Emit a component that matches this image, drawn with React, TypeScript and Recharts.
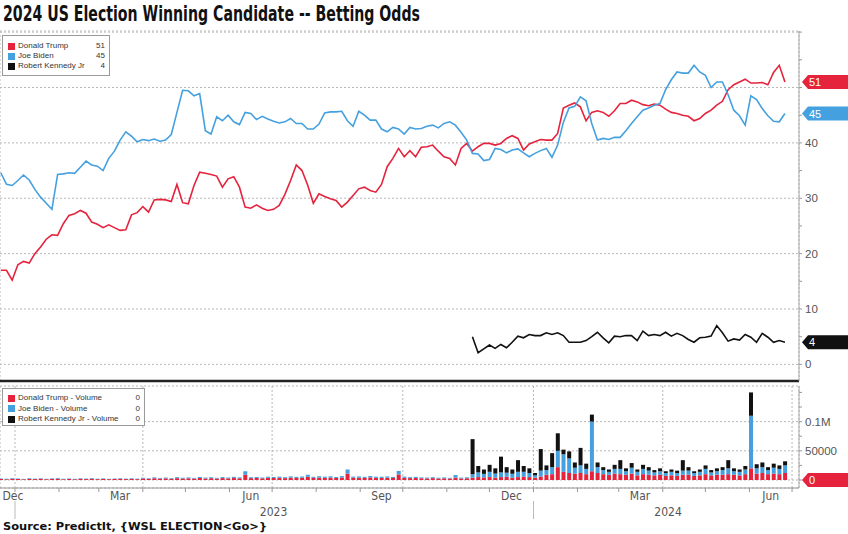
import React from 'react';
import { LineChart, Line, BarChart, Bar, XAxis, YAxis, CartesianGrid, ReferenceLine } from 'recharts';

// x positions: days since 2023-01-01, one reading every 4 days starting 2022-12-22
const START_DAY = -10;
const STEP_DAYS = 4;
const X_DOMAIN: [number, number] = [-10.56, 551.9];

const trump = [
  17.0, 17.0, 15.2, 18.0, 18.6, 18.3, 20.0, 21.2, 22.6, 23.4, 23.3, 25.4, 26.9, 27.2, 27.8, 27.3, 25.7, 25.3, 24.7, 25.2,
  24.7, 24.2, 24.3, 27.0, 27.4, 28.5, 27.5, 29.7, 29.8, 29.7, 29.4, 32.5, 29.2, 29.0, 32.3, 34.7, 34.5, 34.3, 34.0, 32.0,
  33.5, 33.9, 32.0, 28.4, 28.2, 28.8, 28.2, 27.8,
  28.0, 28.7, 30.7, 33.2, 36.0, 35.0, 32.4, 29.1, 30.8, 30.3, 29.9, 29.6, 28.4, 29.3, 30.5, 31.7, 32.0, 31.4, 31.1, 32.5,
  35.7, 37.2, 39.0, 37.5, 38.6, 37.5, 39.2, 39.3, 39.6, 38.5, 37.5, 37.2, 36.0, 39.0, 39.9, 38.5, 39.3, 39.9, 39.9, 39.6,
  39.9, 40.8, 41.3, 40.8, 38.7, 39.8,
  40.2, 40.6, 40.5, 40.5, 41.7, 46.3, 46.8, 47.2, 46.5, 44.0, 45.5, 45.8, 45.5, 44.8, 45.8, 47.1, 47.1, 47.7, 47.4, 46.9,
  46.7, 47.0, 46.8, 46.1, 45.5, 45.3, 45.0, 44.8, 44.0, 44.4, 45.3, 45.9, 46.8, 47.5, 49.6, 50.5, 51.0, 51.5, 50.8, 50.8,
  50.9, 50.5, 52.7, 54.0, 51.0,
];

const biden = [
  34.6, 32.5, 32.3, 33.2, 34.2, 33.3, 31.6, 30.2, 29.1, 28.0, 34.3, 34.4, 34.6, 34.5, 35.6, 36.7, 36.0, 35.8, 35.0, 37.2,
  38.5, 40.5, 42.0, 41.2, 40.2, 40.6, 40.4, 40.7, 40.3, 40.5, 41.5, 45.5, 49.5, 49.4, 48.5, 48.9, 42.2, 41.6, 44.7, 44.0,
  45.0, 43.8, 43.3, 45.5, 45.3, 44.2, 44.8, 44.3,
  43.9, 43.6, 43.8, 44.4, 43.5, 43.5, 42.5, 42.5, 43.4, 45.4, 45.6, 45.6, 45.7, 44.0, 43.0, 45.7, 45.0, 44.1, 44.1, 42.5,
  42.0, 42.8, 42.5, 41.6, 42.8, 42.5, 42.6, 43.0, 43.2, 42.7, 43.5, 43.8, 43.2, 41.9, 40.5, 38.1, 38.0, 36.8, 37.0, 39.0,
  38.8, 38.2, 38.7, 38.9, 38.2, 37.5,
  38.1, 38.6, 39.0, 37.4, 39.6, 43.7, 46.3, 46.6, 48.3, 47.6, 43.5, 40.5, 40.8, 40.6, 41.0, 41.0, 42.2, 43.5, 44.7, 45.9,
  46.3, 46.8, 47.1, 49.6, 51.4, 52.8, 52.6, 52.6, 54.0, 52.8, 52.2, 50.0, 51.0, 51.0, 48.7, 45.9, 44.9, 43.2, 48.5, 47.8,
  46.2, 44.9, 43.9, 43.8, 45.3,
];

// Kennedy market starts at reading index 83 (Nov 2023)
const KENNEDY_START = 83;
const kennedy = [
  5.0, 2.1, 2.8, 3.5, 2.9, 3.6, 3.0, 4.0, 5.1, 4.8, 5.4, 5.2, 5.2, 5.7, 5.4, 5.7, 5.2, 4.0, 4.0, 4.0,
  4.3, 5.0, 5.8, 4.8, 3.9, 5.1, 5.0, 5.2, 5.2, 4.3, 6.0, 5.2, 5.4, 5.2, 5.8, 5.1, 5.6, 5.2, 4.5, 4.0,
  4.8, 4.9, 5.1, 7.0, 5.7, 4.2, 4.6, 4.4, 5.4, 4.9, 4.0, 5.6, 4.9, 4.0, 4.3, 4.0,
];

const trumpVol = [
  1800, 1500, 2200, 1700, 1300, 2000, 1600, 2100, 1400, 1900, 2300, 1500, 1700, 1300, 2000, 1600, 2200, 1500, 1900, 1400,
  1700, 2100, 1600, 2000, 1500,
  2600, 2100, 3000, 2400, 2800, 2200, 3200, 2600, 2900, 2400, 3400, 2700, 3100, 2500, 3300, 2800, 3600, 3000, 9000, 3200,
  3500, 2900, 3700,
  3400, 3800, 3200, 4000, 3500, 3900, 5500, 3600, 4200, 3700, 4100, 3400, 4300, 11000, 3800, 4000, 3500, 4400, 3700,
  3600, 4000, 3400, 9500, 3800, 3200, 3500, 3000, 2800, 3200, 2600, 2900, 2500, 4000, 2700, 3000,
  4000, 5000, 4500, 5000, 4000, 5000, 5500, 4000, 5000, 6000, 5000, 4000, 6000, 9000, 10000, 22000, 14000, 12000, 11000, 12000,
  10000, 15000, 12000, 10000, 9000, 11000, 10000, 9000, 11000, 8000, 10000, 9000, 8000, 9000, 7000, 8000, 7000, 9000, 9000, 7000,
  8000, 10000, 8000, 9000, 9000, 10000, 9000, 8000, 10000, 20000, 11000, 12000, 10000, 11000, 10000, 12000,
];

const bidenVol = [
  900, 700, 1000, 800, 600, 1100, 700, 900, 600, 1000, 1200, 800, 900, 700, 1000, 800, 1100, 700, 900, 600,
  800, 1000, 700, 1100, 800,
  1300, 1000, 1500, 1200, 1400, 1100, 1600, 1300, 1500, 1200, 1800, 1400, 1600, 1200, 1700, 1400, 1900, 1500, 6000, 1600,
  1800, 1400, 2000,
  1800, 2000, 1600, 2200, 1900, 2100, 3500, 1900, 2300, 2000, 2200, 1800, 2400, 7000, 2000, 2200, 1900, 2500, 2000,
  2000, 2200, 1800, 6000, 2100, 1700, 1900, 1500, 1400, 1600, 1300, 1500, 1200, 4500, 1400, 1600,
  6000, 8000, 6000, 9000, 7000, 8000, 7000, 6500, 9000, 8000, 7000, 4000, 10000, 8000, 12000, 28000, 30000, 25000, 10000, 13000,
  9000, 85000, 10000, 7000, 5000, 8000, 9000, 6000, 10000, 6000, 9000, 7000, 5000, 6000, 5000, 6000, 5000, 7000, 7000, 5000,
  6000, 9000, 5000, 6000, 8000, 10000, 6000, 6000, 8000, 90000, 9000, 10000, 7000, 10000, 9000, 13000,
];

const kennedyVol = [
  60000, 11000, 7500, 12000, 9000, 27000, 9500, 7500, 20000, 10000, 8000, 4000, 37000, 8000, 24000, 30000, 8000, 12000, 9000, 30000,
  9000, 12000, 8000, 5000, 4000, 7000, 15000, 5000, 8000, 4000, 7000, 6000, 4000, 5000, 3000, 4000, 4000, 18000, 6000, 3000,
  4000, 6000, 4000, 5000, 5000, 14000, 5000, 4000, 6000, 40000, 7000, 8000, 5000, 7000, 6000, 7000,
];

const volumeLast = [0, 0, 0];

const quarterTicks = [0, 90, 181, 273, 365, 456, 547];
const monthTicks = [0, 31, 59, 90, 120, 151, 181, 212, 243, 273, 304, 334, 365, 396, 425, 456, 486, 517, 547];
const monthLabels = [
  { day: -1.4, label: 'Dec' },
  { day: 74, label: 'Mar' },
  { day: 166, label: 'Jun' },
  { day: 258, label: 'Sep' },
  { day: 349.5, label: 'Dec' },
  { day: 440, label: 'Mar' },
  { day: 532, label: 'Jun' },
];
const yearLabels = [
  { day: 182, label: '2023' },
  { day: 459.7, label: '2024' },
];
const yearSeps = [0, 365];

const oddsTicks = [0, 5, 10, 15, 20, 25, 30, 35, 40, 45, 50, 55, 60];
const oddsGrid = [0, 10, 20, 30, 40, 50, 60];
const volTicks = [0, 25000, 50000, 75000, 100000, 125000, 150000];
const volGrid = [0, 50000, 100000];
const volLabels: Record<number, string> = { 50000: '50000', 100000: '0.1M' };

const RED = '#e5233d';
const BLUE = '#45a0e0';
const BLACK = '#111111';
const SANS = "'Liberation Sans', Arial, sans-serif";
const NARROW = "'Liberation Sans Narrow', 'DejaVu Sans Condensed', sans-serif";

const odds = trump.map((t, i) => ({
  day: START_DAY + STEP_DAYS * i,
  trump: t,
  biden: biden[i],
  kennedy: i >= KENNEDY_START ? kennedy[i - KENNEDY_START] : null,
}));

const volume = trumpVol.map((v, i) => ({
  day: START_DAY + STEP_DAYS * i,
  trumpVol: v,
  bidenVol: bidenVol[i],
  kennedyVol: i >= KENNEDY_START ? kennedyVol[i - KENNEDY_START] : 0,
}));

const lastTrump = trump[trump.length - 1];
const lastBiden = biden[biden.length - 1];
const lastKennedy = kennedy[kennedy.length - 1];
const tagValues = [lastTrump, lastBiden, lastKennedy];

const timeTicks = [...monthTicks, ...monthLabels.map((d) => d.day), ...yearLabels.map((d) => d.day)];

const OddsTick = (props: any) => {
  const { x, y, payload } = props;
  const v = payload.value;
  if (v % 10 !== 0 || v >= 60) return <g />;
  // labels hidden behind a value tag are not drawn (the tag covers them)
  if (tagValues.some((t) => Math.abs(t - v) < 2.2)) return <g />;
  return (
    <text x={x} y={y} dy={4} fontSize={11.5} fill="#555" fontFamily={SANS} textAnchor="start">
      {String(v)}
    </text>
  );
};

const VolTick = (props: any) => {
  const { x, y, payload } = props;
  const lab = volLabels[payload.value];
  if (!lab) return <g />;
  return (
    <text x={x} y={y} dy={4} fontSize={11.5} fill="#555" fontFamily={SANS} textAnchor="start">
      {lab}
    </text>
  );
};

const TimeTick = (props: any) => {
  const { x, y, payload } = props;
  const v = payload.value;
  const m = monthLabels.find((d) => d.day === v);
  if (m) {
    return (
      <text x={x} y={y} dy={12} textAnchor="middle" fontSize={12} fill="#555" fontFamily={NARROW}>
        {m.label}
      </text>
    );
  }
  const yl = yearLabels.find((d) => d.day === v);
  if (yl) {
    return (
      <text x={x} y={y} dy={28} textAnchor="middle" fontSize={12} fill="#555" fontFamily={NARROW}>
        {yl.label}
      </text>
    );
  }
  return (
    <g>
      <line x1={x} x2={x} y1={y} y2={y + 4} stroke="#999" strokeWidth={1} />
      {yearSeps.includes(v) ? <line x1={x} x2={x} y1={y + 13} y2={y + 31} stroke="#bbb" strokeWidth={1} /> : null}
    </g>
  );
};

const Tag = (props: any) => {
  const { viewBox, color, text } = props;
  if (!viewBox) return null;
  const x0 = viewBox.x + viewBox.width + 3;
  const y0 = viewBox.y;
  const h = 7;
  const pts = `${x0},${y0} ${x0 + 6},${y0 - h} 848,${y0 - h} 848,${y0 + h} ${x0 + 6},${y0 + h}`;
  return (
    <g>
      <polygon points={pts} fill={color} />
      <text x={x0 + 7} y={y0 + 4} fontSize={11} fill="#fff" fontFamily={SANS}>
        {text}
      </text>
    </g>
  );
};

const legendBox: React.CSSProperties = {
  position: 'absolute',
  background: '#fff',
  border: '1px solid #9a9a9a',
  boxSizing: 'border-box',
  fontFamily: SANS,
  fontSize: 8,
  color: '#333',
};

const LegendRow = ({ top, color, label, value, width }: any) => (
  <div style={{ position: 'absolute', top, left: 0, width, height: 10, lineHeight: '10px' }}>
    <div style={{ position: 'absolute', left: 5, top: 1.5, width: 7, height: 7, background: color }} />
    <div style={{ position: 'absolute', left: 15, top: 0, whiteSpace: 'nowrap' }}>{label}</div>
    <div style={{ position: 'absolute', right: 4, top: 0 }}>{value}</div>
  </div>
);

export default function App() {
  return (
    <div style={{ position: 'absolute', left: 0, top: 0, width: 848, height: 534, background: '#fff', overflow: 'hidden' }}>
      <svg width={848} height={534} style={{ position: 'absolute', left: 0, top: 0 }}>
        <text
          x={3}
          y={21}
          fontFamily={NARROW}
          fontWeight="bold"
          fontSize={21}
          fill="#111"
          textLength={417}
          lengthAdjust="spacingAndGlyphs"
        >
          2024 US Election Winning Candidate -- Betting Odds
        </text>
      </svg>

      <div style={{ position: 'absolute', left: 0, top: 0 }}>
        <LineChart width={848} height={383} data={odds} margin={{ top: 31, right: 0, left: 0, bottom: 1 }}>
          <CartesianGrid yAxisId="g" stroke="#b8b8b8" strokeDasharray="2 2" />
          <XAxis
            type="number"
            dataKey="day"
            domain={X_DOMAIN}
            allowDataOverflow
            ticks={quarterTicks}
            interval={0}
            height={1}
            tick={false}
            tickLine={false}
            axisLine={{ stroke: '#222', strokeWidth: 2.5 }}
          />
          <YAxis yAxisId="g" type="number" domain={[-3, 60.2]} allowDataOverflow ticks={oddsGrid} width={0} hide />
          <YAxis
            yAxisId="r"
            orientation="right"
            type="number"
            domain={[-3, 60.2]}
            allowDataOverflow
            ticks={oddsTicks}
            interval={0}
            width={49}
            tickSize={3}
            tickMargin={3}
            axisLine={{ stroke: '#aaa' }}
            tickLine={{ stroke: '#999' }}
            tick={<OddsTick />}
          />
          <Line yAxisId="r" type="linear" dataKey="trump" stroke={RED} strokeWidth={1.6} dot={false} isAnimationActive={false} />
          <Line yAxisId="r" type="linear" dataKey="biden" stroke={BLUE} strokeWidth={1.6} dot={false} isAnimationActive={false} />
          <Line yAxisId="r" type="linear" dataKey="kennedy" stroke={BLACK} strokeWidth={1.6} dot={false} isAnimationActive={false} connectNulls={false} />
          <ReferenceLine yAxisId="r" y={lastTrump} stroke="none" ifOverflow="visible" label={<Tag color={RED} text={String(Math.round(lastTrump))} />} />
          <ReferenceLine yAxisId="r" y={lastBiden} stroke="none" ifOverflow="visible" label={<Tag color={BLUE} text={String(Math.round(lastBiden))} />} />
          <ReferenceLine yAxisId="r" y={lastKennedy} stroke="none" ifOverflow="visible" label={<Tag color={BLACK} text={String(Math.round(lastKennedy))} />} />
        </LineChart>
      </div>

      <div style={{ position: 'absolute', left: 0, top: 382 }}>
        <BarChart width={848} height={152} data={volume} margin={{ top: 4, right: 0, left: 0, bottom: 0 }} barGap={0}>
          <CartesianGrid xAxisId="g" yAxisId="g" stroke="#b8b8b8" strokeDasharray="2 2" />
          <XAxis
            xAxisId="m"
            type="number"
            dataKey="day"
            domain={X_DOMAIN}
            allowDataOverflow
            ticks={timeTicks}
            interval={0}
            height={46}
            tickSize={0}
            tickMargin={0}
            tickLine={false}
            axisLine={{ stroke: '#999' }}
            tick={<TimeTick />}
          />
          <XAxis xAxisId="g" type="number" dataKey="day" domain={X_DOMAIN} allowDataOverflow ticks={quarterTicks} height={0} hide />
          <YAxis yAxisId="g" type="number" domain={[-13700, 161000]} allowDataOverflow ticks={volGrid} width={0} hide />
          <YAxis
            yAxisId="r"
            orientation="right"
            type="number"
            domain={[-13700, 161000]}
            allowDataOverflow
            ticks={volTicks}
            interval={0}
            width={49}
            tickSize={3}
            tickMargin={3}
            axisLine={{ stroke: '#aaa' }}
            tickLine={{ stroke: '#999' }}
            tick={<VolTick />}
          />
          <Bar xAxisId="m" yAxisId="r" dataKey="trumpVol" stackId="v" fill={RED} barSize={4} isAnimationActive={false} />
          <Bar xAxisId="m" yAxisId="r" dataKey="bidenVol" stackId="v" fill={BLUE} barSize={4} isAnimationActive={false} />
          <Bar xAxisId="m" yAxisId="r" dataKey="kennedyVol" stackId="v" fill={BLACK} barSize={4} isAnimationActive={false} />
          <ReferenceLine xAxisId="m" yAxisId="r" y={volumeLast[0]} stroke="none" ifOverflow="visible" label={<Tag color={RED} text={String(volumeLast[0])} />} />
        </BarChart>
      </div>

      <svg width={848} height={534} style={{ position: 'absolute', left: 0, top: 0, pointerEvents: 'none' }}>
        <text
          x={3}
          y={530}
          fontFamily="'DejaVu Sans', sans-serif"
          fontWeight="bold"
          fontSize={11}
          fill="#111"
          textLength={264}
          lengthAdjust="spacingAndGlyphs"
        >
          {'Source: PredictIt, {WSL ELECTION<Go>}'}
        </text>
      </svg>

      <div style={{ ...legendBox, left: 2, top: 35, width: 108, height: 41 }}>
        <LegendRow top={5} width={106} color={RED} label="Donald Trump" value={String(Math.round(lastTrump))} />
        <LegendRow top={15} width={106} color={BLUE} label="Joe Biden" value={String(Math.round(lastBiden))} />
        <LegendRow top={25} width={106} color={BLACK} label="Robert Kennedy Jr" value={String(Math.round(lastKennedy))} />
      </div>

      <div style={{ ...legendBox, left: 2, top: 388, width: 143, height: 38 }}>
        <LegendRow top={4} width={141} color={RED} label="Donald Trump - Volume" value={String(volumeLast[0])} />
        <LegendRow top={14.5} width={141} color={BLUE} label="Joe Biden - Volume" value={String(volumeLast[1])} />
        <LegendRow top={25} width={141} color={BLACK} label="Robert Kennedy Jr - Volume" value={String(volumeLast[2])} />
      </div>
    </div>
  );
}
